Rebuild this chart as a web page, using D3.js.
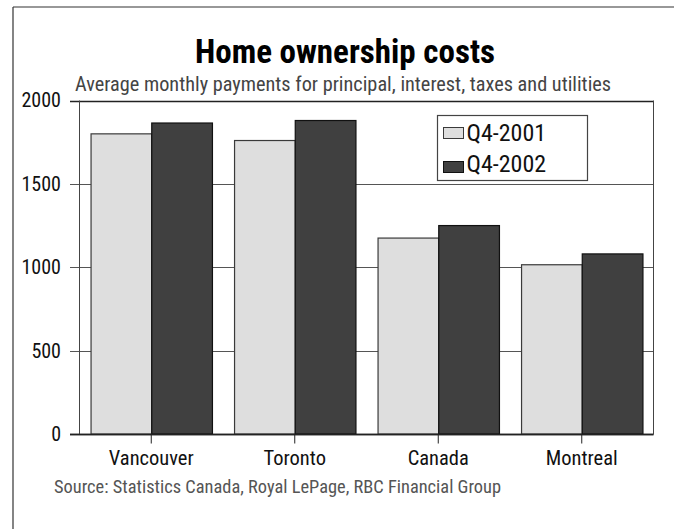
<!DOCTYPE html>
<html>
<head>
<meta charset="utf-8">
<script src="https://cdn.jsdelivr.net/npm/d3@7"></script>
<style>
  html, body { margin: 0; padding: 0; background: #fff; }
  svg { display: block; }
  text { font-family: "Liberation Sans Narrow", "Arial Narrow", "Roboto Condensed", sans-serif; }
</style>
</head>
<body>
<svg id="chart" width="674" height="529"></svg>
<script>
// Monthly home ownership costs by market
const categories = ["Vancouver", "Toronto", "Canada", "Montreal"];
const seriesNames = ["Q4-2001", "Q4-2002"];
const values2001 = [1800, 1760, 1175, 1015];
const values2002 = [1865, 1880, 1250, 1080];
const yTicks = [0, 500, 1000, 1500, 2000];
const seriesColors = ["#dedede", "#404040"];
const seriesStrokes = ["#3a3a3a", "#111111"];

const svg = d3.select("#chart");
const W = 674, H = 529;
const plot = { left: 79.5, right: 653.5, top: 100.5, bottom: 434 };
const fontStack = "\"Liberation Sans Narrow\", \"Arial Narrow\", \"Roboto Condensed\", sans-serif";

// Outer frame: left and top rules
svg.append("line").attr("x1", 13).attr("x2", 13).attr("y1", 7).attr("y2", H)
  .attr("stroke", "#333").attr("stroke-width", 1.2);
svg.append("line").attr("x1", 13).attr("x2", W).attr("y1", 7).attr("y2", 7)
  .attr("stroke", "#333").attr("stroke-width", 1.2);

// Title and subtitle
svg.append("text").attr("x", 345).attr("y", 63)
  .attr("text-anchor", "middle").attr("font-size", 33).attr("font-weight", "bold")
  .attr("fill", "#000").text("Home ownership costs");
svg.append("text").attr("x", 75).attr("y", 91)
  .attr("font-size", 20.3).attr("fill", "#444")
  .text("Average monthly payments for principal, interest, taxes and utilities");

const x = d3.scaleBand().domain(categories)
  .range([plot.left, plot.right]).paddingInner(0.154).paddingOuter(0.077);
const xs = d3.scaleBand().domain(seriesNames).range([0, x.bandwidth()]).padding(0);
const y = d3.scaleLinear().domain([0, 2000]).range([plot.bottom, plot.top]);

// Horizontal gridlines (behind bars), extending left past the axis as ticks
svg.append("g").selectAll("line").data(yTicks).join("line")
  .attr("x1", 70).attr("x2", plot.right)
  .attr("y1", d => Math.round(y(d)) + 0.5).attr("y2", d => Math.round(y(d)) + 0.5)
  .attr("stroke", d => (d === 0 || d === 2000) ? "#222" : "#555")
  .attr("stroke-width", d => (d === 0 || d === 2000) ? 1.4 : 1);

// Y axis labels
const yAxis = d3.axisLeft(y).tickValues(yTicks).tickSize(0).tickPadding(0).tickFormat(d3.format("d"));
const yG = svg.append("g").attr("transform", `translate(61,0)`).call(yAxis);
yG.select(".domain").remove();
yG.selectAll("text").attr("font-size", 20).attr("fill", "#111").attr("font-family", fontStack);

// Left axis line and right border
svg.append("line").attr("x1", plot.left).attr("x2", plot.left)
  .attr("y1", plot.top).attr("y2", plot.bottom).attr("stroke", "#444").attr("stroke-width", 1);
svg.append("line").attr("x1", plot.right).attr("x2", plot.right)
  .attr("y1", plot.top).attr("y2", plot.bottom).attr("stroke", "#444").attr("stroke-width", 1);

// Bars
const rows = categories.map((c, i) => ({ cat: c, vals: [values2001[i], values2002[i]] }));
const groups = svg.append("g").selectAll("g").data(rows).join("g")
  .attr("transform", d => `translate(${x(d.cat)},0)`);
groups.selectAll("rect").data(d => d.vals.map((v, j) => ({ key: seriesNames[j], v, j })))
  .join("rect")
  .attr("x", d => xs(d.key) + 0.5)
  .attr("y", d => y(d.v))
  .attr("width", xs.bandwidth())
  .attr("height", d => plot.bottom - y(d.v))
  .attr("fill", d => seriesColors[d.j])
  .attr("stroke", d => seriesStrokes[d.j])
  .attr("stroke-width", 1.2);

// Baseline redrawn over bars
svg.append("line").attr("x1", 70).attr("x2", plot.right)
  .attr("y1", Math.round(y(0)) + 0.5).attr("y2", Math.round(y(0)) + 0.5)
  .attr("stroke", "#222").attr("stroke-width", 1.4);

// X axis: ticks at category centres and labels
const xAxis = d3.axisBottom(x).tickSize(9).tickPadding(7);
const xG = svg.append("g").attr("transform", `translate(0,${Math.round(y(0)) + 0.5})`).call(xAxis);
xG.select(".domain").remove();
xG.selectAll("line").attr("stroke", "#222");
xG.selectAll("text").attr("font-size", 20.5).attr("fill", "#111").attr("font-family", fontStack);

// Legend
const lg = svg.append("g").attr("transform", "translate(437.5,115.5)");
lg.append("rect").attr("width", 150).attr("height", 65)
  .attr("fill", "#fff").attr("stroke", "#444").attr("stroke-width", 1.2);
seriesNames.forEach((name, i) => {
  const row = lg.append("g").attr("transform", `translate(6,${12 + i * 34})`);
  row.append("rect").attr("width", 20).attr("height", 11)
    .attr("fill", seriesColors[i]).attr("stroke", seriesStrokes[i]).attr("stroke-width", 1);
  row.append("text").attr("x", 23).attr("y", i === 0 ? 13 : 10.5).attr("font-size", 24)
    .attr("fill", "#111").text(name);
});

// Source line
svg.append("text").attr("x", 54).attr("y", 493)
  .attr("font-size", 18.4).attr("fill", "#555")
  .text("Source: Statistics Canada, Royal LePage, RBC Financial Group");
</script>
</body>
</html>
